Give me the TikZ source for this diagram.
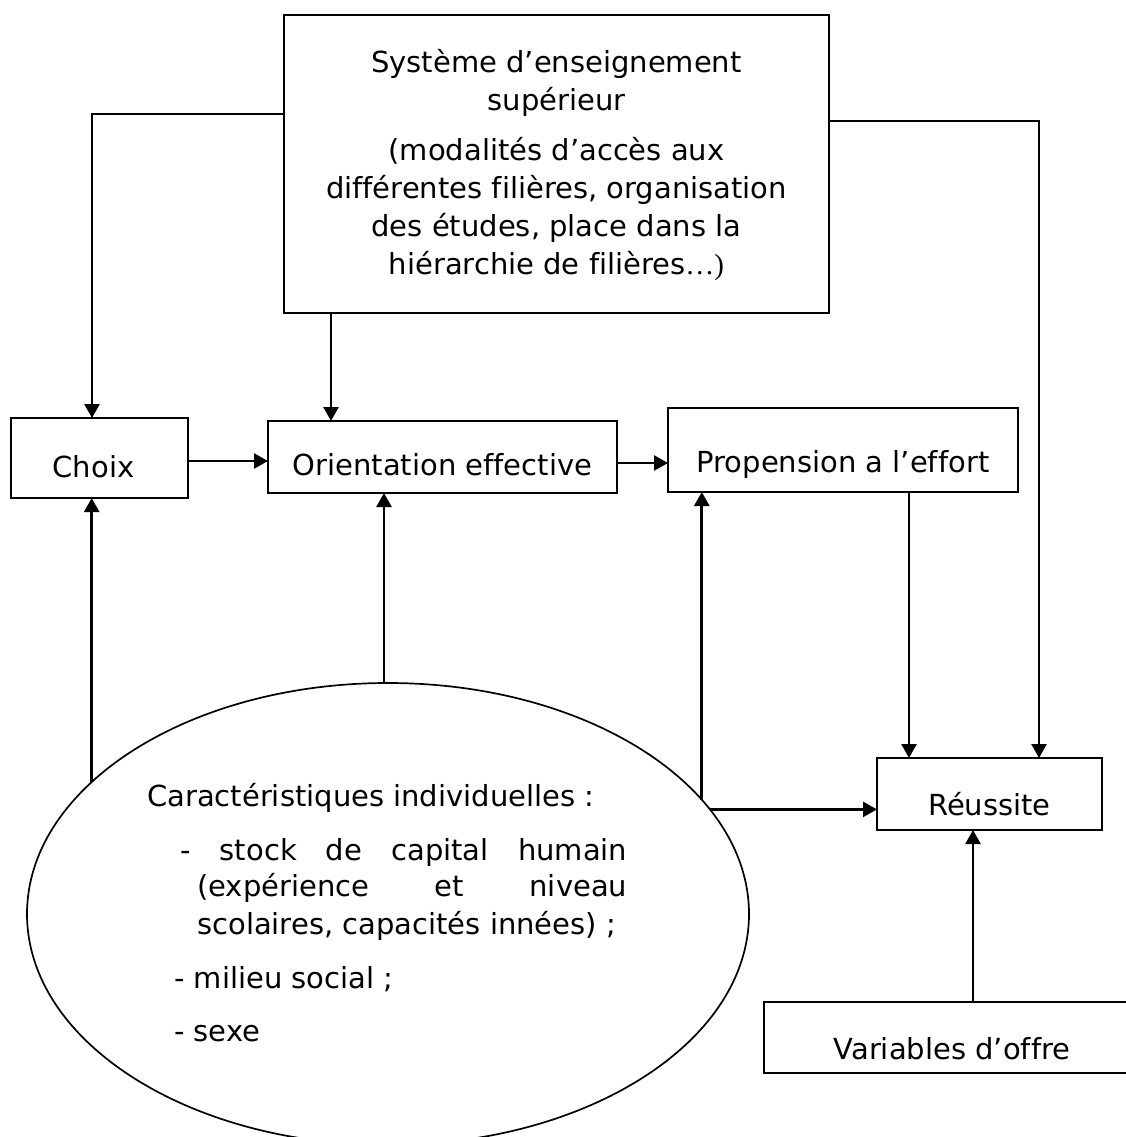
\documentclass[tikz,border=0pt]{standalone}
\usepackage{fontspec}
\setmainfont{DejaVu Sans}[Ligatures=NoCommon]
\newfontfamily\serifpart{Liberation Serif}
\usetikzlibrary{arrows.meta,shapes.geometric}
\begin{document}
\begin{tikzpicture}[x=1pt,y=-1pt,
  every node/.style={font=\fontsize{29pt}{38pt}\selectfont},
  box/.style={draw,line width=2.4pt,rectangle,inner sep=0pt,outer sep=0pt,
              text height=40pt,text depth=0pt},
  bigbox/.style={draw,line width=2.4pt,rectangle,inner sep=0pt,outer sep=0pt},
  oval/.style={draw,line width=1.7pt,ellipse,inner sep=0pt,outer sep=0pt},
  txt/.style={inner sep=0pt,anchor=base west},
  arr/.style={line width=2.6pt,-{Triangle[length=14pt,width=15pt]}}]
\useasboundingbox (0,0) rectangle (1126,1137);

% boxes
\node[bigbox,minimum width=545pt,minimum height=298pt] (sys) at (556.5,164) {};
\node[align=center] (systxt) at (556.5,165)
  {Système d’enseignement\\supérieur\\[12pt](modalités d’accès aux\\différentes filières, organisation\\des études, place dans la\\hiérarchie de filières{\serifpart …)}};
\node[box,minimum width=177pt,minimum height=80pt,text height=38pt] (choix) at (99.5,458) {\hspace*{-12pt}Choix};
\node[box,minimum width=349pt,minimum height=72pt,text height=36pt] (orient) at (442.5,457) {Orientation effective};
\node[box,minimum width=350pt,minimum height=84pt,text height=44pt] (prop) at (843,450) {Propension a l’effort};
\node[box,minimum width=225pt,minimum height=72pt,text height=42pt] (reu) at (989.5,794) {Réussite};
\node[box,minimum width=376pt,minimum height=71pt,text height=43pt] (offre) at (952,1037.5) {Variables d’offre};

% individual characteristics
\node[oval,minimum width=722pt,minimum height=462pt] (ind) at (388,914) {};
\node[txt] (c0) at (147,806) {Caractéristiques individuelles :};
\node[txt] (c1) at (180,860) {\hbox to 447pt{-\hfill stock\hfill de\hfill capital\hfill humain}};
\node[txt] (c2) at (197,896) {\hbox to 430pt{(expérience\hfill et\hfill niveau}};
\node[txt] (c3) at (197,934) {scolaires, capacités innées) ;};
\node[txt] (c4) at (174,988) {- milieu social ;};
\node[txt] (c5) at (174,1041) {- sexe};

% connectors
\coordinate (lturn) at (92,114);
\coordinate (rturn) at (1039,121);
\draw[arr] (sys.west |- lturn) -- (lturn) -- (lturn |- choix.north);
\draw[arr] (sys.east |- rturn) -- (rturn) -- (rturn |- reu.north);
\draw[arr] (sys.south -| 331,0) -- (orient.north -| 331,0);
\draw[arr] (choix.east |- 0,461) -- (orient.west |- 0,461);
\draw[arr] (orient.east |- 0,463) -- (prop.west |- 0,463);
\draw[arr] (prop.south -| 909,0) -- (reu.north -| 909,0);
\draw[arr] (ind.156.15) -- (ind.156.15 |- choix.south);
\draw[arr] (ind.91.98) -- (ind.91.98 |- orient.south);
\draw[arr] (ind.20.43) -- (ind.20.43 |- prop.south);
\draw[arr] (ind.18.29) -- (ind.18.29 -| reu.west);
\draw[arr] (offre.north -| 973,0) -- (reu.south -| 973,0);
\end{tikzpicture}
\end{document}
